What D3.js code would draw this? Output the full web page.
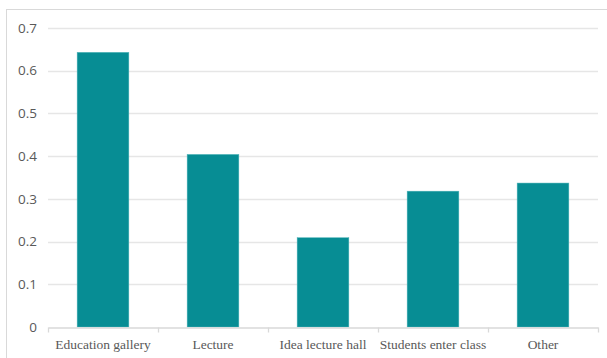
<!DOCTYPE html>
<html><head><meta charset="utf-8">
<script src="https://cdn.jsdelivr.net/npm/d3@7"></script>
<style>body{margin:0;background:#fff}</style>
</head><body>
<svg id="c" width="607" height="358"></svg>
<script>
const categories = ["Education gallery","Lecture","Idea lecture hall","Students enter class","Other"];
const values = [0.643, 0.404, 0.209, 0.318, 0.337];
const yTicks = [0,0.1,0.2,0.3,0.4,0.5,0.6,0.7];

const svg = d3.select("#c");
const m = {l:48, r:9, t:28, b:31};
const W = 607, H = 358;
const x = d3.scaleBand().domain(categories).range([m.l, W - m.r]).paddingInner(0.53).paddingOuter(0.265);
const xb = d3.scaleBand().domain(categories).range([m.l, W - m.r]);
const y = d3.scaleLinear().domain([0,0.7]).range([H - m.b, m.t]);

svg.append("rect").attr("x",6.5).attr("y",9.5).attr("width",W).attr("height",H)
  .attr("fill","none").attr("stroke","#d9d9d9");

svg.append("g").selectAll("line").data(yTicks.filter(d=>d>0)).join("line")
  .attr("x1",m.l).attr("x2",W-m.r).attr("y1",d=>Math.round(y(d))+0.5).attr("y2",d=>Math.round(y(d))+0.5)
  .attr("stroke","#e6e6e6").attr("stroke-width",1.3);

svg.append("g").selectAll("text").data(yTicks).join("text")
  .attr("x",37).attr("y",d=>y(d)).attr("dy","0.35em").attr("text-anchor","end")
  .attr("font-family","'Open Sans', sans-serif").attr("font-size",13.5).attr("fill","#595959")
  .text(d=>d===0?"0":d.toFixed(1));

svg.append("g").selectAll("rect").data(values).join("rect")
  .attr("x",(d,i)=>x(categories[i])).attr("width",x.bandwidth())
  .attr("y",d=>y(d)).attr("height",d=>y(0)-y(d))
  .attr("fill","#078d94").attr("stroke","#4fb3b8").attr("stroke-width",0.5);

const ax = svg.append("g").attr("transform",`translate(0,${Math.round(y(0))+0.5})`)
  .call(d3.axisBottom(xb).tickSize(0).tickFormat(""));
ax.select(".domain").attr("stroke","#d9d9d9").attr("stroke-width",1.3);
ax.selectAll(".tick").remove();
const edges = categories.map(c=>xb(c)).concat([W-m.r]);
ax.selectAll("line.tk").data(edges).join("line").attr("class","tk")
  .attr("x1",d=>Math.round(d)+0.5).attr("x2",d=>Math.round(d)+0.5).attr("y1",0).attr("y2",5)
  .attr("stroke","#d9d9d9").attr("stroke-width",1.3);

svg.append("g").selectAll("text").data(categories).join("text")
  .attr("x",d=>xb(d)+xb.bandwidth()/2).attr("y",349).attr("text-anchor","middle")
  .attr("font-family","'Liberation Serif', serif").attr("font-size",13.5).attr("fill","#595959")
  .text(d=>d);
</script>
</body></html>
